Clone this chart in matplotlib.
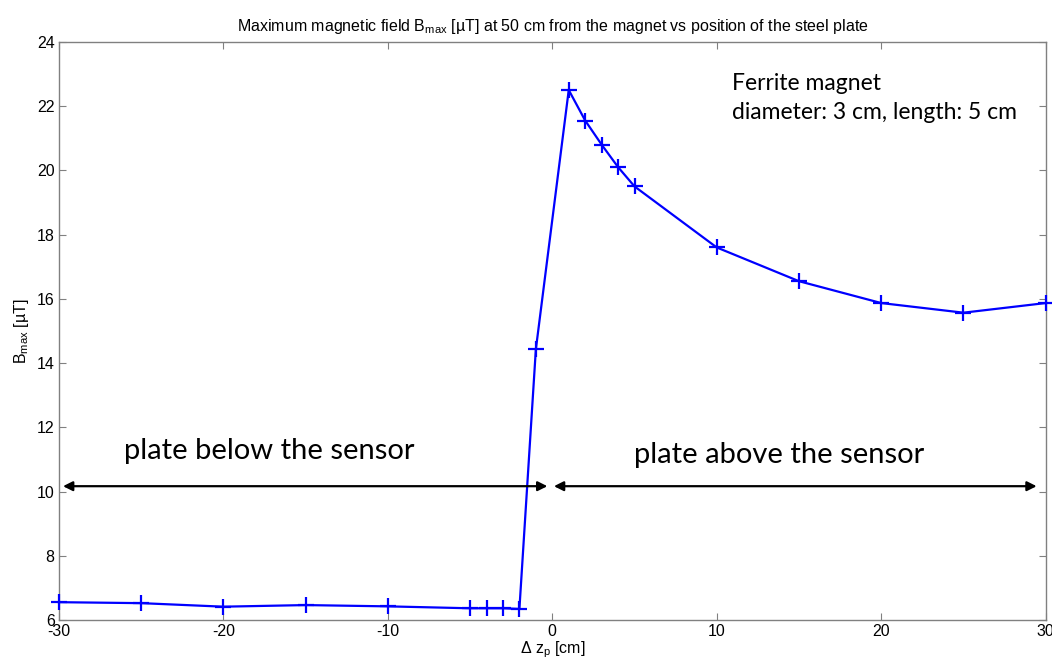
import matplotlib
matplotlib.use("Agg")
import matplotlib.pyplot as plt

plt.rcParams['font.family'] = ['Liberation Sans', 'DejaVu Sans']
plt.rcParams['mathtext.default'] = 'regular'
plt.rcParams['axes.unicode_minus'] = False

# Plate position offset (cm) and peak field (µT)
dz = [-30, -25, -20, -15, -10, -5, -4, -3, -2, -1, 1, 2, 3, 4, 5, 10, 15, 20, 25, 30]
bmax = [6.56, 6.53, 6.42, 6.47, 6.43, 6.37, 6.37, 6.37, 6.35, 14.43,
        22.5, 21.55, 20.8, 20.1, 19.5, 17.6, 16.55, 15.87, 15.57, 15.87]

x_ticks = [-30, -20, -10, 0, 10, 20, 30]
y_ticks = [6, 8, 10, 12, 14, 16, 18, 20, 22, 24]

fig = plt.figure(figsize=(10.52, 6.64), dpi=100)
ax = fig.add_axes([0.056, 0.066, 0.938, 0.871])

ax.plot(dz, bmax, color='#0000ff', lw=1.6, marker='+', markersize=11, markeredgewidth=1.6,
        clip_on=False, zorder=3)

ax.set_xlim(-30, 30)
ax.set_ylim(6, 24)
ax.set_xticks(x_ticks)
ax.set_yticks(y_ticks)
ax.tick_params(direction='in', length=5, color='#808080', labelsize=11.5, pad=3,
               top=True, right=True)
for s in ax.spines.values():
    s.set_color('#808080')
    s.set_linewidth(1.0)

ax.set_title(r'Maximum magnetic field B$_{max}$ [µT] at 50 cm from the magnet vs position of the steel plate',
             fontsize=11.5, pad=8)
ax.set_xlabel(r'$\Delta$ z$_p$ [cm]', fontsize=11.5, labelpad=0)
ax.set_ylabel(r'B$_{max}$ [µT]', fontsize=11.5, labelpad=4)

# Region arrows
arrow_y = 10.17
ax.annotate('', xy=(-0.3, arrow_y), xytext=(-29.75, arrow_y),
            arrowprops=dict(arrowstyle='<|-|>', color='black', lw=1.6, mutation_scale=14,
                            shrinkA=0, shrinkB=0))
ax.annotate('', xy=(29.45, arrow_y), xytext=(0.1, arrow_y),
            arrowprops=dict(arrowstyle='<|-|>', color='black', lw=1.6, mutation_scale=14,
                            shrinkA=0, shrinkB=0))

side_font = ['Lato', 'Open Sans', 'DejaVu Sans']
ax.text(-17.2, 11.25, 'plate below the sensor', fontsize=21, ha='center', va='center', family=side_font)
ax.text(13.8, 11.15, 'plate above the sensor', fontsize=21, ha='center', va='center', family=side_font)
ax.text(10.95, 22.25, 'Ferrite magnet\ndiameter: 3 cm, length: 5 cm', fontsize=16.5,
        ha='left', va='center', linespacing=1.5, family=side_font)

fig.savefig('out.png', dpi=100, facecolor='white')
